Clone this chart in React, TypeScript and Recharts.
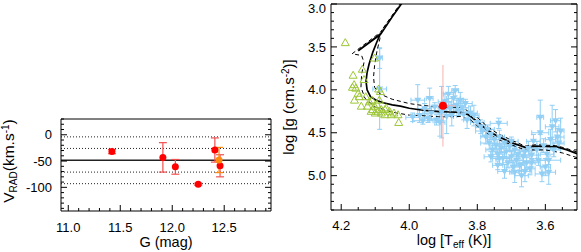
import React from "react";
import {
  ComposedChart,
  Scatter,
  Line,
  XAxis,
  YAxis,
  ErrorBar,
  ReferenceLine,
} from "recharts";

const FONT = "'Liberation Sans', Arial, Helvetica, sans-serif";
const INK = "#000";
const RED = "#ff0000";
const ORANGE = "#ff8a10";
const BLUE = "#92cff5";
const GREEN = "#9cc636";
const PINK = "#f7b0b0";

// ---- left panel: radial velocity vs G magnitude ----
const gMag = [11.42, 11.91, 12.03, 12.25, 12.41, 12.46];
const vRad = [-32, -43, -61, -94, -29, -59];
const vRadErr = [4, 28, 14, 2, 23, 21];
const gMagAlt = [12.45];
const vRadAlt = [-48];
const vRadAltErr = [24];
const vRadMean = -48.5;
const vRadSigma = [-4, -26, -71, -93];

const gMajor = [11.0, 11.5, 12.0, 12.5];
const vMajor = [0, -50, -100];

// ---- right panel: Kiel diagram ----
const blueTeff = [
  4.087, 4.087, 3.975, 3.97, 3.955, 3.945, 3.935, 3.925, 3.92, 3.905, 3.895, 3.885,
  3.88, 3.875, 3.87, 3.865, 3.86, 3.855, 3.85, 3.845, 3.84, 3.835, 3.83, 3.82,
  3.81, 3.8, 3.79, 3.96, 3.99, 3.91, 3.89, 3.94, 3.737,
  3.785, 3.775, 3.77, 3.765, 3.76, 3.755, 3.75, 3.745, 3.74, 3.735, 3.73, 3.725,
  3.72, 3.715, 3.71, 3.705, 3.7, 3.695, 3.69, 3.685, 3.68, 3.675, 3.67, 3.665,
  3.66, 3.655, 3.65, 3.645, 3.64, 3.76, 3.74, 3.72, 3.7, 3.69, 3.735,
  3.635, 3.625, 3.62, 3.615, 3.605, 3.6, 3.595, 3.59, 3.585, 3.58, 3.575, 3.57,
  3.565, 3.56, 3.555, 3.615, 3.64, 3.61, 3.66, 3.59,
];
const blueLogg = [
  3.63, 3.99, 4.12, 4.3, 4.22, 4.33, 4.27, 4.2, 4.35, 4.26, 4.14, 4.05,
  4.22, 4.3, 4.1, 4.01, 4.18, 4.25, 4.12, 4.21, 4.29, 4.16, 4.35, 4.27,
  4.3, 4.38, 4.43, 4.36, 4.32, 4.38, 4.31, 4.1, 4.39,
  4.48, 4.55, 4.46, 4.62, 4.52, 4.7, 4.58, 4.65, 4.75, 4.55, 4.68, 4.8,
  4.62, 4.72, 4.85, 4.66, 4.78, 4.9, 4.7, 4.82, 4.75, 4.88, 5.0, 4.78,
  4.72, 4.85, 4.68, 4.92, 4.76, 4.78, 4.88, 4.95, 4.6, 4.96, 4.8,
  4.6, 4.7, 4.82, 4.5, 4.65, 4.9, 4.75, 4.96, 4.58, 4.43, 4.7, 4.36,
  4.55, 4.62, 4.48, 4.32, 4.85, 4.98, 4.95, 4.82,
];
const blueTeffErr = [
  0.008, 0.02, 0.02, 0.015, 0.02, 0.01, 0.025, 0.015, 0.02, 0.01, 0.02, 0.015,
  0.02, 0.015, 0.02, 0.01, 0.025, 0.015, 0.01, 0.02, 0.015, 0.02, 0.01, 0.02,
  0.015, 0.02, 0.015, 0.03, 0.02, 0.015, 0.02, 0.01, 0.025,
  0.02, 0.015, 0.02, 0.025, 0.015, 0.02, 0.02, 0.015, 0.02, 0.015, 0.025, 0.02,
  0.015, 0.02, 0.015, 0.02, 0.025, 0.02, 0.015, 0.02, 0.02, 0.015, 0.02, 0.02,
  0.015, 0.025, 0.02, 0.015, 0.02, 0.02, 0.015, 0.02, 0.02, 0.015, 0.02,
  0.02, 0.015, 0.02, 0.025, 0.02, 0.015, 0.02, 0.02, 0.015, 0.02, 0.02, 0.015,
  0.02, 0.015, 0.01, 0.01, 0.025, 0.02, 0.02, 0.035,
];
const blueLoggErr = [
  0.12, 0.47, 0.18, 0.08, 0.06, 0.05, 0.07, 0.05, 0.06, 0.3, 0.1, 0.09,
  0.08, 0.12, 0.07, 0.06, 0.06, 0.05, 0.09, 0.07, 0.06, 0.05, 0.1, 0.08,
  0.12, 0.06, 0.08, 0.04, 0.05, 0.16, 0.2, 0.12, 0.06,
  0.06, 0.08, 0.05, 0.07, 0.06, 0.08, 0.05, 0.07, 0.06, 0.08, 0.05, 0.07,
  0.06, 0.08, 0.06, 0.05, 0.07, 0.08, 0.06, 0.07, 0.05, 0.06, 0.13, 0.07,
  0.05, 0.06, 0.08, 0.07, 0.05, 0.06, 0.05, 0.08, 0.05, 0.12, 0.06,
  0.08, 0.1, 0.06, 0.2, 0.08, 0.1, 0.06, 0.14, 0.12, 0.25, 0.08, 0.13,
  0.1, 0.07, 0.15, 0.2, 0.05, 0.09, 0.12, 0.05,
];

const greenTeff = [
  4.188, 4.102, 4.138, 4.165, 4.133, 4.162, 4.167, 4.157, 4.09, 4.147, 4.128, 4.161,
  4.11, 4.088, 4.117, 4.141, 4.123, 4.102, 4.068, 4.082, 4.112, 4.092, 4.107, 4.058,
  4.082, 4.053, 4.033, 4.045, 4.1, 4.072, 4.031, 4.085, 4.071, 4.15, 4.095,
];
const greenLogg = [
  3.45, 3.63, 3.76, 3.83, 3.88, 3.94, 3.97, 3.98, 3.99, 4.08, 4.08, 4.12,
  4.12, 4.12, 4.14, 4.19, 4.19, 4.19, 4.21, 4.23, 4.25, 4.25, 4.23, 4.25,
  4.27, 4.29, 4.29, 4.27, 4.27, 4.29, 4.38, 4.02, 4.23, 4.04, 4.17,
];

const starTeff = [3.901];
const starLogg = [4.186];
const starTeffErr = [0.035];
const starLoggErr = [0.475];

const isoTeff = [
  3.507, 3.536, 3.566, 3.6, 3.634, 3.659, 3.7, 3.74, 3.771, 3.8, 3.826, 3.85,
  3.88, 3.909, 3.94, 3.965, 4.0, 4.026, 4.05, 4.076, 4.096, 4.114, 4.124, 4.127,
  4.124, 4.118, 4.107, 4.095, 4.086, 4.15, 4.082, 4.05, 4.018,
];
const isoLogg = [
  4.745, 4.7, 4.665, 4.66, 4.655, 4.67, 4.615, 4.54, 4.47, 4.37, 4.29, 4.262,
  4.258, 4.255, 4.245, 4.235, 4.215, 4.19, 4.175, 4.15, 4.125, 4.08, 4.0, 3.9,
  3.8, 3.7, 3.56, 3.44, 3.36, 3.545, 3.34, 3.15, 2.97,
];
const isoHiTeff = [
  3.507, 3.54, 3.57, 3.63, 3.66, 3.7, 3.74, 3.77, 3.8, 3.83, 3.85, 3.909,
  3.965, 4.0, 4.05, 4.085, 4.102, 4.105, 4.102, 4.095, 4.086, 4.08, 4.05, 4.02,
];
const isoHiLogg = [
  4.725, 4.68, 4.65, 4.64, 4.655, 4.585, 4.51, 4.43, 4.32, 4.24, 4.205, 4.2,
  4.18, 4.16, 4.11, 4.05, 3.97, 3.85, 3.72, 3.55, 3.4, 3.3, 3.13, 2.96,
];
const isoLoTeff = [
  3.507, 3.55, 3.6, 3.66, 3.7, 3.74, 3.77, 3.8, 3.82, 3.85, 3.909, 3.965,
  4.0, 4.05, 4.1, 4.13, 4.142, 4.14, 4.133, 4.14, 4.168, 4.085, 4.05, 4.02,
];
const isoLoLogg = [
  4.79, 4.735, 4.7, 4.7, 4.64, 4.575, 4.51, 4.42, 4.35, 4.31, 4.315, 4.3,
  4.295, 4.26, 4.2, 4.1, 3.97, 3.82, 3.68, 3.6, 3.58, 3.33, 3.14, 2.97,
];

const teffMajor = [4.2, 4.0, 3.8, 3.6];
const loggMajor = [3.0, 3.5, 4.0, 4.5, 5.0];

const steps = (from: number, count: number, step: number) =>
  Array.from({ length: count }, (_, i) => Math.round((from + i * step) * 1000) / 1000);

const gTicks = steps(11.0, 20, 0.1);
const vTicks = steps(-140, 18, 10);
const teffTicks = steps(3.55, 14, 0.05);
const loggTicks = steps(3.0, 25, 0.1);

const pts = (xs: number[], ys: number[], exs?: number[], eys?: number[]) =>
  xs.map((x, i) => ({ x, y: ys[i], ex: exs ? exs[i] : 0, ey: eys ? eys[i] : 0 }));

type Side = "bottom" | "left" | "top" | "right";

function tickMark(side: Side, majors: number[], fmt?: (v: number) => string, gap = 0) {
  return (props: any) => {
    const { x, y, payload } = props;
    const v = Number(payload.value);
    const major = majors.some((m) => Math.abs(m - v) < 1e-6);
    const len = major ? 6 : 3;
    const x2 = side === "left" ? x + len : side === "right" ? x - len : x;
    const y2 = side === "bottom" ? y - len : side === "top" ? y + len : y;
    return (
      <g>
        <line x1={x} y1={y} x2={x2} y2={y2} stroke={INK} strokeWidth={1} />
        {major && fmt && side === "bottom" && (
          <text x={x} y={y + gap} textAnchor="middle" fontSize={13} fontFamily={FONT} fill={INK}>
            {fmt(v)}
          </text>
        )}
        {major && fmt && side === "left" && (
          // keep a label at the very top edge inside the picture
          <text x={x - gap} y={Math.max(y + 4.6, 12.5)} textAnchor="end" fontSize={13}
            fontFamily={FONT} fill={INK}>
            {fmt(v)}
          </text>
        )}
      </g>
    );
  };
}

const dot = (color: string, r: number) => (p: any) =>
  <circle cx={p.cx} cy={p.cy} r={r} fill={color} />;

const downTri = (p: any) => (
  <path
    d={`M${p.cx - 3.5},${p.cy - 2.5} L${p.cx + 3.5},${p.cy - 2.5} L${p.cx},${p.cy + 3.5} Z`}
    fill={BLUE}
  />
);

const openTri = (p: any) => (
  <path
    d={`M${p.cx - 4},${p.cy + 3} L${p.cx + 4},${p.cy + 3} L${p.cx},${p.cy - 4} Z`}
    fill="none"
    stroke={GREEN}
    strokeWidth={1}
  />
);

const frame = { stroke: INK, strokeWidth: 1 };

function VelocityPanel() {
  const domX: [number, number] = [10.93, 12.95];
  const domY: [number, number] = [-145, 30];
  return (
    <ComposedChart width={290} height={152} margin={{ top: 18, right: 18, bottom: 0, left: 0 }}>
      <XAxis type="number" dataKey="x" domain={domX} allowDataOverflow ticks={gTicks} interval={0}
        tick={tickMark("bottom", gMajor, (v) => v.toFixed(1), 21)} tickLine={false} tickSize={0}
        tickMargin={0} axisLine={frame} height={41} />
      <XAxis xAxisId="t" orientation="top" type="number" domain={domX} allowDataOverflow ticks={gTicks}
        interval={0} tick={tickMark("top", gMajor)} tickLine={false} tickSize={0} tickMargin={0}
        axisLine={frame} height={1} />
      <YAxis type="number" dataKey="y" domain={domY} allowDataOverflow ticks={vTicks} interval={0}
        tick={tickMark("left", vMajor, (v) => String(v), 9)} tickLine={false} tickSize={0}
        tickMargin={0} axisLine={frame} width={61} />
      <YAxis yAxisId="r" orientation="right" type="number" domain={domY} allowDataOverflow ticks={vTicks}
        interval={0} tick={tickMark("right", vMajor)} tickLine={false} tickSize={0} tickMargin={0}
        axisLine={frame} width={1} />
      {vRadSigma.map((v) => (
        <ReferenceLine key={v} y={v} stroke="#222" strokeDasharray="1 2" />
      ))}
      <ReferenceLine y={vRadMean} stroke="#222" strokeWidth={1.3} />
      <Scatter data={pts(gMag, vRad, undefined, vRadErr)} shape={dot(RED, 3.5)} isAnimationActive={false}>
        <ErrorBar dataKey="ey" direction="y" width={4} stroke="#f05050" strokeWidth={1.2} />
      </Scatter>
      <Scatter data={pts(gMagAlt, vRadAlt, undefined, vRadAltErr)} shape={dot(ORANGE, 3.5)}
        isAnimationActive={false}>
        <ErrorBar dataKey="ey" direction="y" width={4} stroke={ORANGE} strokeWidth={1.2} />
      </Scatter>
    </ComposedChart>
  );
}

function KielPanel() {
  const domX: [number, number] = [3.507, 4.23];
  const domY: [number, number] = [3.0, 5.4];
  return (
    <ComposedChart width={291} height={252} margin={{ top: 3, right: 3, bottom: 0, left: 0 }}>
      <XAxis type="number" dataKey="x" domain={domX} reversed allowDataOverflow ticks={teffTicks}
        interval={0} tick={tickMark("bottom", teffMajor, (v) => v.toFixed(1), 20)} tickLine={false}
        tickSize={0} tickMargin={0} axisLine={frame} height={42} />
      <XAxis xAxisId="t" orientation="top" type="number" domain={domX} reversed allowDataOverflow
        ticks={teffTicks} interval={0} tick={tickMark("top", teffMajor)} tickLine={false} tickSize={0}
        tickMargin={0} axisLine={frame} height={1} />
      <YAxis type="number" dataKey="y" domain={domY} reversed allowDataOverflow ticks={loggTicks}
        interval={0} tick={tickMark("left", loggMajor, (v) => v.toFixed(1), 5)} tickLine={false}
        tickSize={0} tickMargin={0} axisLine={frame} width={41} />
      <YAxis yAxisId="r" orientation="right" type="number" domain={domY} reversed allowDataOverflow
        ticks={loggTicks} interval={0} tick={tickMark("right", loggMajor)} tickLine={false} tickSize={0}
        tickMargin={0} axisLine={frame} width={1} />
      <Scatter data={pts(blueTeff, blueLogg, blueTeffErr, blueLoggErr)} shape={downTri}
        isAnimationActive={false}>
        <ErrorBar dataKey="ex" direction="x" width={2.5} stroke={BLUE} strokeWidth={1} />
        <ErrorBar dataKey="ey" direction="y" width={2.5} stroke={BLUE} strokeWidth={1} />
      </Scatter>
      <Scatter data={pts(greenTeff, greenLogg)} shape={openTri} isAnimationActive={false} />
      <Line data={pts(isoHiTeff, isoHiLogg)} dataKey="y" type="linear" dot={false} stroke={INK}
        strokeWidth={1} strokeDasharray="4 3" isAnimationActive={false} />
      <Line data={pts(isoLoTeff, isoLoLogg)} dataKey="y" type="linear" dot={false} stroke={INK}
        strokeWidth={1} strokeDasharray="4 3" isAnimationActive={false} />
      <Line data={pts(isoTeff, isoLogg)} dataKey="y" type="linear" dot={false} stroke={INK}
        strokeWidth={1.7} isAnimationActive={false} />
      <Scatter data={pts(starTeff, starLogg, starTeffErr, starLoggErr)} shape={dot(RED, 4)}
        isAnimationActive={false}>
        <ErrorBar dataKey="ex" direction="x" width={0} stroke={PINK} strokeWidth={1} />
        <ErrorBar dataKey="ey" direction="y" width={0} stroke={PINK} strokeWidth={1} />
      </Scatter>
    </ComposedChart>
  );
}

function Titles() {
  const t = { fontFamily: FONT, fill: INK, fontSize: 14.5 } as const;
  return (
    <svg width={581} height={252} style={{ position: "absolute", left: 0, top: 0, pointerEvents: "none" }}>
      <text x={166} y={246.5} textAnchor="middle" {...t}>G (mag)</text>
      <text x={454} y={245} textAnchor="middle" {...t}>
        log [T<tspan dy={3} fontSize={10}>eff</tspan><tspan dy={-3}> (K)]</tspan>
      </text>
      <text transform="translate(14,161) rotate(-90)" textAnchor="middle" {...t} fontSize={15.5}>
        V<tspan dy={3} fontSize={10}>RAD</tspan><tspan dy={-3}>(km.s</tspan>
        <tspan dy={-5} fontSize={10}>-1</tspan><tspan dy={5}>)</tspan>
      </text>
      <text transform="translate(293.5,107) rotate(-90)" textAnchor="middle" {...t} fontSize={15}>
        log [g (cm.s<tspan dy={-5} fontSize={10}>-2</tspan><tspan dy={5}>)]</tspan>
      </text>
    </svg>
  );
}

export default function App() {
  return (
    <div style={{ position: "absolute", left: 0, top: 0, width: 581, height: 252, background: "#fff" }}>
      <div style={{ position: "absolute", left: 0, top: 100 }}>
        <VelocityPanel />
      </div>
      <div style={{ position: "absolute", left: 290, top: 0 }}>
        <KielPanel />
      </div>
      <Titles />
    </div>
  );
}
